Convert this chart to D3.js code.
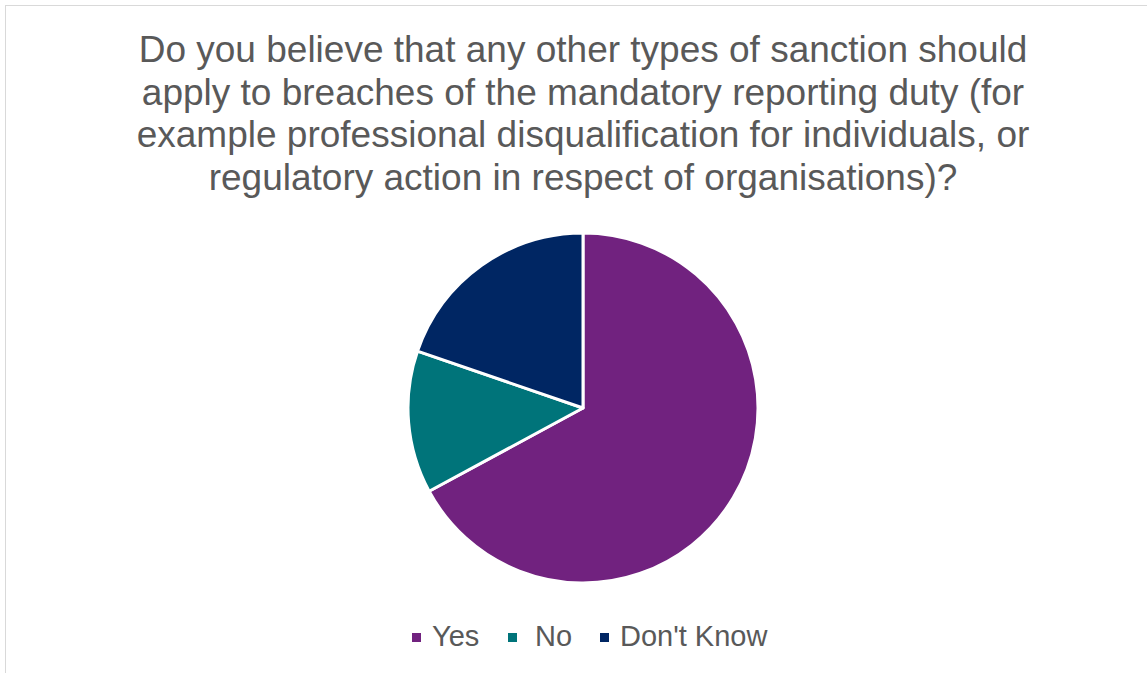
<!DOCTYPE html>
<html>
<head>
<meta charset="utf-8">
<script src="https://cdn.jsdelivr.net/npm/d3@7"></script>
<style>
  html, body { margin: 0; padding: 0; background: #fff; }
  svg { display: block; }
</style>
</head>
<body>
<svg id="chart" width="1147" height="673"></svg>
<script>
const titleLines = [
  "Do you believe that any other types of sanction should",
  "apply to breaches of the mandatory reporting duty (for",
  "example professional disqualification for individuals, or",
  "regulatory action in respect of organisations)?"
];
const categories = ["Yes", "No", "Don't Know"];
const values = [51, 10, 15];
const colors = ["#71227F", "#00747A", "#002663"];

const svg = d3.select("#chart");
const W = 1147, H = 673;

// chart area frame
svg.append("rect")
  .attr("x", 5.5).attr("y", 5.5)
  .attr("width", W + 10).attr("height", H + 10)
  .attr("fill", "#fff").attr("stroke", "#d9d9d9").attr("stroke-width", 1);

// title
const title = svg.append("text")
  .attr("font-family", "Liberation Sans, Arial, sans-serif")
  .attr("font-size", 37)
  .attr("fill", "#595959")
  .attr("text-anchor", "middle");
titleLines.forEach((t, i) => {
  title.append("tspan").attr("x", 583).attr("y", 62 + i * 42.7).text(t);
});

// pie
const cx = 583, cy = 408, r = 175;
const pie = d3.pie().sort(null).value(d => d.value);
const arc = d3.arc().innerRadius(0).outerRadius(r);
const data = categories.map((c, i) => ({ name: c, value: values[i], color: colors[i] }));

svg.append("g")
  .attr("transform", `translate(${cx},${cy})`)
  .selectAll("path")
  .data(pie(data))
  .join("path")
  .attr("d", arc)
  .attr("fill", d => d.data.color)
  .attr("stroke", "#fff")
  .attr("stroke-width", 3)
  .attr("stroke-linejoin", "round");

// legend
const legendX = [412, 508, 600];
const legendTextX = [432, 535, 620];
const legend = svg.append("g").attr("transform", "translate(0,646)");
data.forEach((d, i) => {
  legend.append("rect")
    .attr("x", legendX[i]).attr("y", -13)
    .attr("width", 9).attr("height", 9)
    .attr("fill", d.color);
  legend.append("text")
    .attr("x", legendTextX[i]).attr("y", 0)
    .attr("font-family", "Liberation Sans, Arial, sans-serif")
    .attr("font-size", 29)
    .attr("fill", "#595959")
    .text(d.name);
});
</script>
</body>
</html>
